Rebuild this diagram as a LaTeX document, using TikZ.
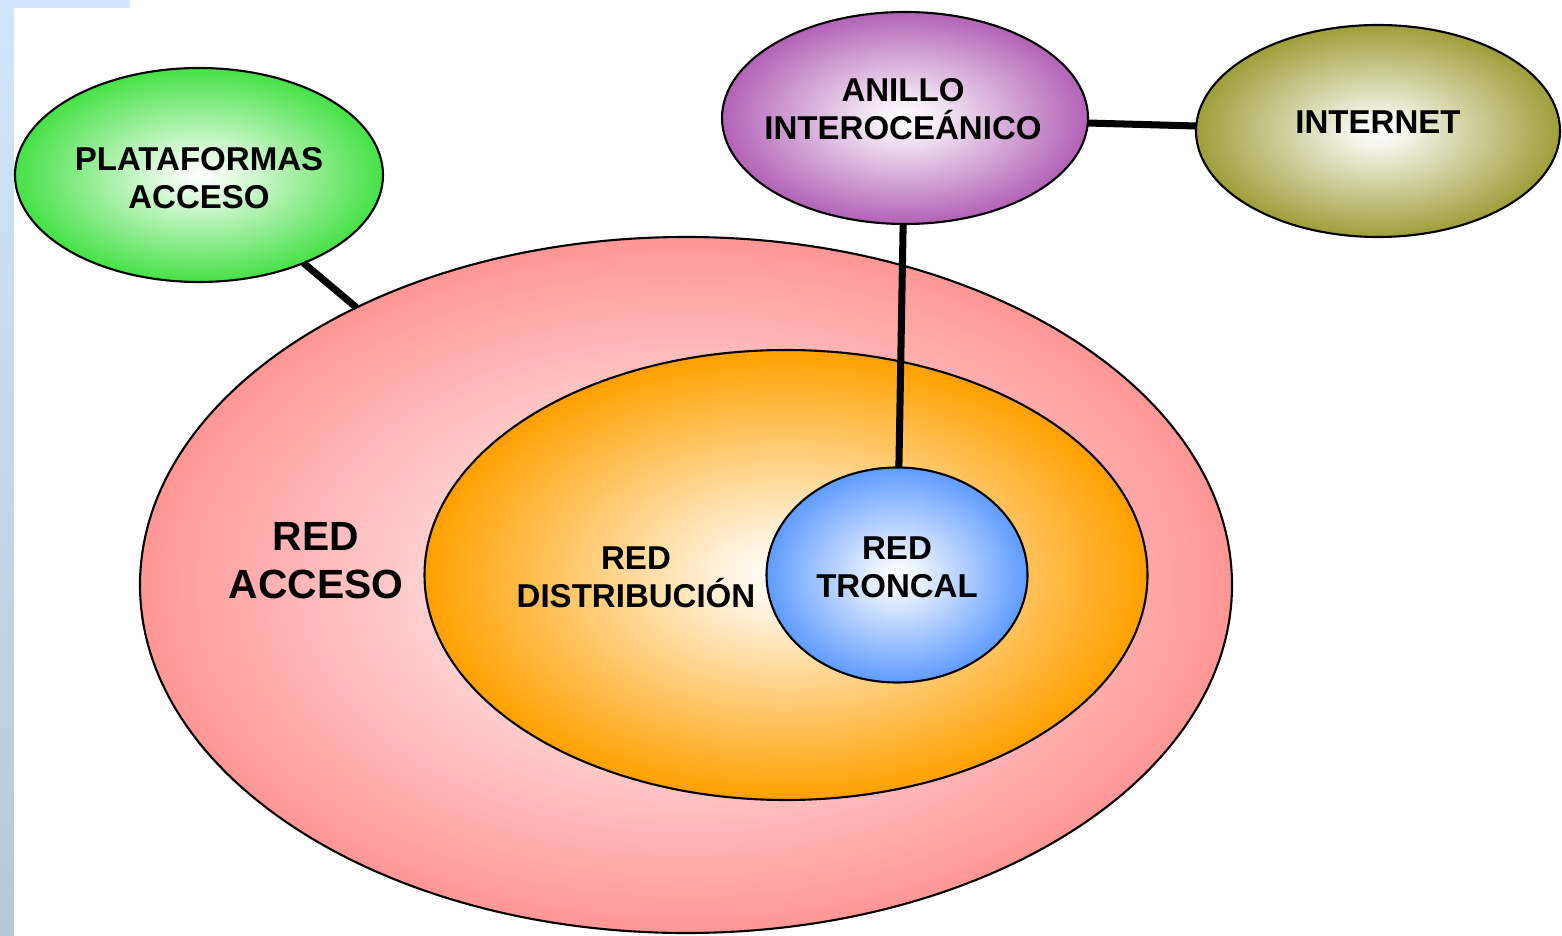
\documentclass[tikz,border=0pt]{standalone}
\usepackage{fontspec}
\setmainfont{Liberation Sans}
\usetikzlibrary{shapes.geometric}
\definecolor{verde}{RGB}{70,225,70}
\definecolor{morado}{RGB}{178,98,182}
\definecolor{oliva}{RGB}{158,158,58}
\definecolor{rosa}{RGB}{255,150,150}
\definecolor{naranja}{RGB}{255,160,0}
\definecolor{azul}{RGB}{95,155,255}
\definecolor{cieloA}{RGB}{208,230,250}
\definecolor{cieloB}{RGB}{185,200,215}
\makeatletter
\pgfdeclareradialshading[tikz@ball]{brillo}{\pgfpoint{0bp}{0bp}}{%
  color(0bp)=(white); color(4bp)=(tikz@ball!12!white);
  color(25bp)=(tikz@ball); color(50bp)=(tikz@ball)}
\makeatother
\begin{document}
\begin{tikzpicture}[
    zona/.style={ellipse, draw, line width=0.6pt, inner sep=0pt, outer sep=0pt,
      ball color=#1, shading=brillo},
    txt/.style={font=\bfseries\fontsize{9.4}{10.8}\selectfont, align=center},
    enlace/.style={line width=2pt}]
  \useasboundingbox (0,0) rectangle (15.62,-9.36);
  \shade[top color=cieloA, bottom color=cieloB] (0,0) rectangle (0.14,-9.36);
  \fill[cieloA] (0,0) rectangle (1.3,-0.08);

  \node[zona=rosa, minimum width=10.92cm, minimum height=6.96cm] (acc) at (6.86,-5.85) {};
  \node[zona=naranja, minimum width=7.23cm, minimum height=4.50cm] (dist) at (7.86,-5.75) {};
  \node[zona=azul, minimum width=2.61cm, minimum height=2.15cm] (tron) at (8.97,-5.75) {};
  \node[zona=verde, minimum width=3.68cm, minimum height=2.14cm] (plat) at (1.99,-1.75) {};
  \node[zona=morado, minimum width=3.66cm, minimum height=2.12cm] (anillo) at (9.05,-1.18) {};
  \node[zona=oliva, minimum width=3.64cm, minimum height=2.12cm] (inet) at (13.78,-1.31) {};

  \node[txt] (plat-txt) at (1.99,-1.78) {PLATAFORMAS\\ACCESO};
  \node[txt] (anillo-txt) at (9.03,-1.09) {ANILLO\\INTEROCEÁNICO};
  \node[txt] (inet-txt) at (13.78,-1.22) {INTERNET};
  \node[txt, font=\bfseries\fontsize{11.6}{13.6}\selectfont] (acc-txt) at (3.16,-5.61) {RED\\ACCESO};
  \node[txt] (dist-txt) at (6.36,-5.77) {RED\\DISTRIBUCIÓN};
  \node[txt] (tron-txt) at (8.97,-5.67) {RED\\TRONCAL};

  \draw[enlace] (plat) -- (acc);
  \draw[enlace] (anillo) -- (tron);
  \draw[enlace] (anillo) -- (inet);
\end{tikzpicture}
\end{document}
